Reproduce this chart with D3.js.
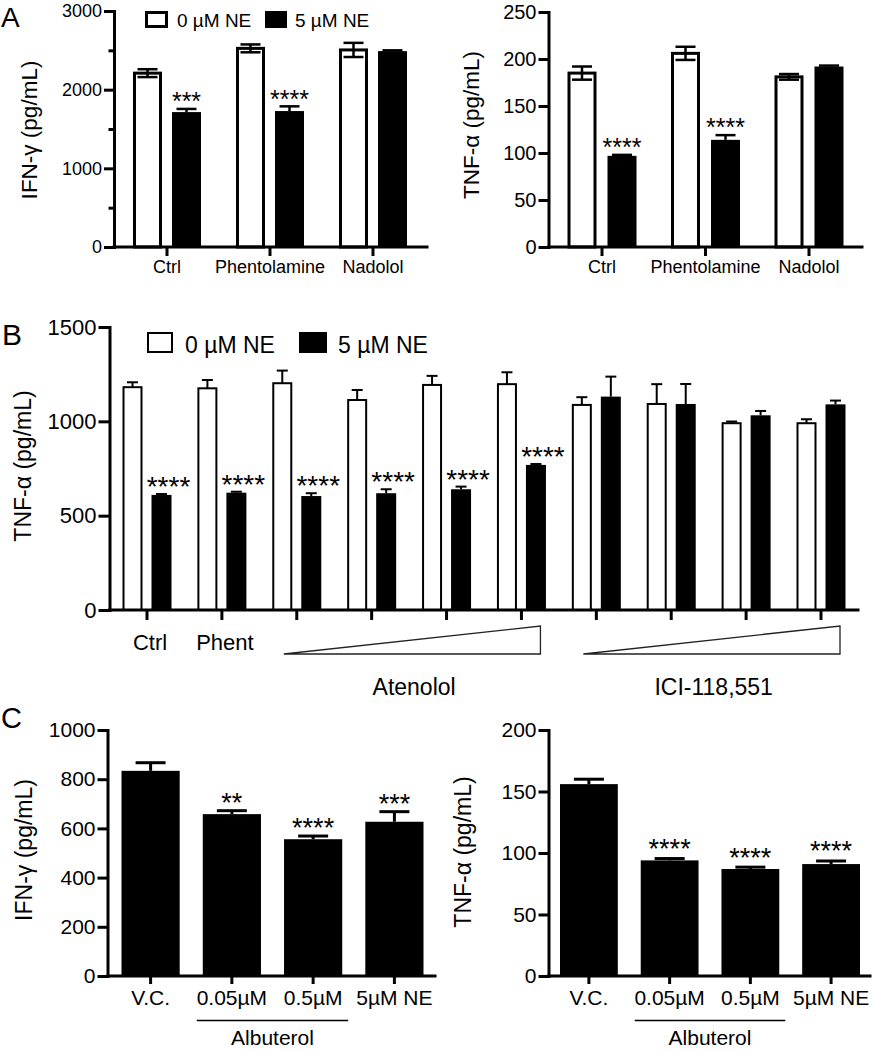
<!DOCTYPE html>
<html>
<head>
<meta charset="utf-8">
<script src="https://cdn.jsdelivr.net/npm/d3@7"></script>
<style>
  html, body { margin: 0; padding: 0; background: #fff; }
  svg { display: block; }
</style>
</head>
<body>
<script>
// ---------------- DATA ----------------
const seriesNames = ["0 µM NE", "5 µM NE"];

// Panel A
const aCategories = ["Ctrl", "Phentolamine", "Nadolol"];
const aIfnTicks = [0, 1000, 2000, 3000];
const aIfnMinorTicks = [500, 1500, 2500];
const aIfnControl = [2210, 2525, 2505];
const aIfnControlErr = [50, 50, 90];
const aIfnNE = [1715, 1728, 2490];
const aIfnNEErr = [40, 60, 10];
const aIfnStars = ["***", "****", ""];

const aTnfTicks = [0, 50, 100, 150, 200, 250];
const aTnfControl = [185, 206, 181];
const aTnfControlErr = [7, 7, 3];
const aTnfNE = [97, 114, 192];
const aTnfNEErr = [1, 5, 1];
const aTnfStars = ["****", "****", ""];

// Panel B
const bGroups = ["Ctrl", "Phent", "Aten1", "Aten2", "Aten3", "Aten4", "ICI1", "ICI2", "ICI3", "ICI4"];
const bLabels = ["Ctrl", "Phent", "", "", "", "", "", "", "", ""];
const bTicks = [0, 500, 1000, 1500];
const bControl = [1181, 1175, 1202, 1113, 1193, 1197, 1087, 1092, 990, 990];
const bControlErr = [26, 44, 67, 53, 48, 63, 41, 105, 9, 21];
const bNE = [610, 622, 604, 619, 640, 769, 1131, 1092, 1032, 1090];
const bNEErr = [5, 5, 15, 21, 14, 5, 106, 106, 23, 20];
const bStars = ["****", "****", "****", "****", "****", "****", "", "", "", ""];
const bDrugs = [
  { name: "Atenolol", first: "Aten1", last: "Aten4" },
  { name: "ICI-118,551", first: "ICI1", last: "ICI4" }
];

// Panel C
const cCategories = ["V.C.", "0.05µM", "0.5µM", "5µM NE"];
const cBracket = { name: "Albuterol", first: "0.05µM", last: "0.5µM" };
const cIfnTicks = [0, 200, 400, 600, 800, 1000];
const cIfn = [834, 658, 556, 627];
const cIfnErr = [33, 14, 13, 41];
const cIfnStars = ["", "**", "****", "***"];
const cTnfTicks = [0, 50, 100, 150, 200];
const cTnf = [156, 94, 87, 91];
const cTnfErr = [4, 1.5, 1.5, 2.5];
const cTnfStars = ["", "****", "****", "****"];

// ---------------- DRAWING ----------------
const FONT = "'Liberation Sans', Arial, Helvetica, sans-serif";
const W = 873, H = 1050;
const svg = d3.select("body").append("svg")
  .attr("width", W).attr("height", H)
  .attr("font-family", FONT);

function yAxis(g, y, o) {
  const ax = g.append("g")
    .attr("transform", `translate(${o.axisX},0)`)
    .call(d3.axisLeft(y).tickValues(o.ticks).tickSize(o.yTickLen).tickSizeOuter(0)
      .tickPadding(o.yTickPad).tickFormat(d3.format("d")));
  ax.select(".domain").attr("stroke-width", o.axisW).attr("stroke-linecap", "square");
  ax.selectAll(".tick line").attr("stroke-width", o.axisW);
  ax.selectAll(".tick text").attr("font-size", o.tickFs).attr("fill", "#000").attr("font-family", FONT);
  if (o.minor) {
    const mi = g.append("g")
      .attr("transform", `translate(${o.axisX},0)`)
      .call(d3.axisLeft(y).tickValues(o.minor).tickSize(o.yTickLen * 0.55).tickSizeOuter(0).tickFormat(""));
    mi.select(".domain").remove();
    mi.selectAll(".tick line").attr("stroke-width", o.axisW);
  }
}

function xAxisLine(g, y, xs, centers, o) {
  g.append("line")
    .attr("x1", o.axisX).attr("x2", o.xEnd)
    .attr("y1", y(0)).attr("y2", y(0))
    .attr("stroke", "#000").attr("stroke-width", o.axisW).attr("stroke-linecap", "square");
  g.selectAll(null).data(centers).enter().append("line")
    .attr("x1", d => d).attr("x2", d => d)
    .attr("y1", y(0)).attr("y2", y(0) + o.xTickLen)
    .attr("stroke", "#000").attr("stroke-width", o.axisW);
}

function yTitle(g, text, x, yc, fs) {
  g.append("text")
    .attr("transform", `translate(${x},${yc}) rotate(-90)`)
    .attr("text-anchor", "middle")
    .attr("font-size", fs)
    .text(text);
}

function panelLetter(g, t, x, y, fs) {
  g.append("text").attr("x", x).attr("y", y).attr("font-size", fs).text(t);
}

function errBar(g, x, yv, ytop, ybot, capW, sw) {
  g.append("line").attr("x1", x).attr("x2", x).attr("y1", ybot).attr("y2", ytop)
    .attr("stroke", "#000").attr("stroke-width", sw);
  g.append("line").attr("x1", x - capW / 2).attr("x2", x + capW / 2).attr("y1", ytop).attr("y2", ytop)
    .attr("stroke", "#000").attr("stroke-width", sw);
  if (ybot > yv) {
    g.append("line").attr("x1", x - capW / 2).attr("x2", x + capW / 2).attr("y1", ybot).attr("y2", ybot)
      .attr("stroke", "#000").attr("stroke-width", sw);
  }
}

function starText(g, text, x, errTopY, fs, gap) {
  if (!text) return;
  g.append("text")
    .attr("x", x)
    .attr("y", errTopY - gap + 0.57 * fs)
    .attr("text-anchor", "middle")
    .attr("font-size", fs)
    .text(text);
}

// grouped open/filled panel
function groupedPanel(o) {
  const g = svg.append("g");
  const y = d3.scaleLinear().domain([0, o.yMax]).range([o.y0, o.yTop]);
  const x = d3.scalePoint().domain(o.groups).range(o.xRange);
  const inner = d3.scaleBand().domain(seriesNames).range([-o.halfSpan, o.halfSpan]).paddingInner(o.gap / (o.barW + o.gap));
  const bw = inner.bandwidth();

  o.groups.forEach((grp, i) => {
    const cx = x(grp);
    // open bar
    const ox = cx + inner(seriesNames[0]);
    const v0 = o.ctrl[i], e0 = o.ctrlErr[i];
    g.append("rect")
      .attr("x", ox + o.barSW / 2).attr("width", bw - o.barSW)
      .attr("y", y(v0)).attr("height", y(0) - y(v0))
      .attr("fill", "#fff").attr("stroke", "#000").attr("stroke-width", o.barSW);
    errBar(g, ox + bw / 2, y(v0), y(v0 + e0), o.bothErr ? y(v0 - e0) : y(v0), o.capW, o.errSW);
    // filled bar
    const fx = cx + inner(seriesNames[1]);
    const v1 = o.ne[i], e1 = o.neErr[i];
    errBar(g, fx + bw / 2, y(v1), y(v1 + e1), y(v1), o.capW, o.errSW);
    g.append("rect")
      .attr("x", fx).attr("width", bw)
      .attr("y", y(v1)).attr("height", y(0) - y(v1))
      .attr("fill", "#000");
    starText(g, o.stars[i], fx + bw / 2 + o.starDx, y(v1 + e1), o.starFs, o.starGap);
    if (o.labels[i]) {
      g.append("text").attr("x", cx + (o.labelDx || 0)).attr("y", y(0) + o.labelDy)
        .attr("text-anchor", "middle").attr("font-size", o.labelFs).text(o.labels[i]);
    }
  });

  yAxis(g, y, o);
  xAxisLine(g, y, x, o.groups.map(d => x(d)), o);
  yTitle(g, o.title, o.titleX, o.titleY, o.titleFs);
  return { g, x, y, inner };
}

// Panel A left
const pAL = groupedPanel({
  groups: aCategories, labels: aCategories,
  ctrl: aIfnControl, ctrlErr: aIfnControlErr, ne: aIfnNE, neErr: aIfnNEErr, stars: aIfnStars,
  yMax: 3000, y0: 247, yTop: 11, xRange: [167, 373],
  halfSpan: 34, barW: 29, gap: 10, barSW: 3, errSW: 2.5, capW: 20, bothErr: true,
  axisX: 114, xEnd: 427, axisW: 3, ticks: aIfnTicks, minor: aIfnMinorTicks,
  yTickLen: 10, yTickPad: 2, tickFs: 18, xTickLen: 9,
  starFs: 25, starGap: 13, starDx: 0,
  labelFs: 18, labelDy: 26,
  title: "IFN-γ (pg/mL)", titleX: 37, titleY: 130, titleFs: 22.5
});
// Legend A
const legA = pAL.g.append("g");
legA.append("rect").attr("x", 146.5).attr("y", 12.5).attr("width", 20).attr("height", 14)
  .attr("fill", "#fff").attr("stroke", "#000").attr("stroke-width", 3);
legA.append("text").attr("x", 177).attr("y", 27).attr("font-size", 19).text(seriesNames[0]);
legA.append("rect").attr("x", 265).attr("y", 11).attr("width", 22).attr("height", 17).attr("fill", "#000");
legA.append("text").attr("x", 295).attr("y", 27).attr("font-size", 19).text(seriesNames[1]);
panelLetter(pAL.g, "A", 1, 27, 28);

// Panel A right
groupedPanel({
  groups: aCategories, labels: aCategories,
  ctrl: aTnfControl, ctrlErr: aTnfControlErr, ne: aTnfNE, neErr: aTnfNEErr, stars: aTnfStars,
  yMax: 250, y0: 247, yTop: 12, xRange: [602, 809],
  halfSpan: 34.5, barW: 29, gap: 11, barSW: 3, errSW: 2.5, capW: 20, bothErr: true,
  axisX: 548.5, xEnd: 862, axisW: 3, ticks: aTnfTicks,
  yTickLen: 10, yTickPad: 2, tickFs: 20,
  xTickLen: 9,
  starFs: 25, starGap: 13.5, starDx: 0,
  labelFs: 18, labelDy: 26,
  title: "TNF-α (pg/mL)", titleX: 478.5, titleY: 125, titleFs: 22.5
});

// Panel B
const pB = groupedPanel({
  groups: bGroups, labels: bLabels,
  ctrl: bControl, ctrlErr: bControlErr, ne: bNE, neErr: bNEErr, stars: bStars,
  yMax: 1500, y0: 610, yTop: 327, xRange: [147, 821],
  halfSpan: 24.5, barW: 20, gap: 9, barSW: 2, errSW: 2, capW: 11, bothErr: false,
  axisX: 109.5, xEnd: 858, axisW: 3, ticks: bTicks,
  yTickLen: 11, yTickPad: 2, tickFs: 22,
  xTickLen: 10,
  starFs: 28, starGap: 14, starDx: 7,
  labelFs: 22, labelDy: 40, labelDx: 3,
  title: "TNF-α (pg/mL)", titleX: 30.5, titleY: 466, titleFs: 23
});
// Legend B
const legB = pB.g.append("g");
legB.append("rect").attr("x", 148).attr("y", 333).attr("width", 24).attr("height", 19)
  .attr("fill", "#fff").attr("stroke", "#000").attr("stroke-width", 2);
legB.append("text").attr("x", 185).attr("y", 353).attr("font-size", 23).text(seriesNames[0]);
legB.append("rect").attr("x", 299).attr("y", 332).attr("width", 28).attr("height", 21).attr("fill", "#000");
legB.append("text").attr("x", 338).attr("y", 353).attr("font-size", 23).text(seriesNames[1]);
panelLetter(pB.g, "B", 2, 345, 30);
// Dose triangles
bDrugs.forEach(dr => {
  const xl = pB.x(dr.first) - 13, xr = pB.x(dr.last) + 19;
  const yb = pB.y(0) + 44, yt = pB.y(0) + 16;
  pB.g.append("path")
    .attr("d", `M${xl},${yb}L${xr},${yt}L${xr},${yb}Z`)
    .attr("fill", "none").attr("stroke", "#222").attr("stroke-width", 1.3);
  pB.g.append("text").attr("x", (pB.x(dr.first) + pB.x(dr.last)) / 2 + 5).attr("y", pB.y(0) + 85)
    .attr("text-anchor", "middle").attr("font-size", 23).text(dr.name);
});

// Panel C (single series)
function singlePanel(o) {
  const g = svg.append("g");
  const y = d3.scaleLinear().domain([0, o.yMax]).range([o.y0, o.yTop]);
  const x = d3.scaleBand().domain(o.cats).range(o.xRange).paddingInner(o.padIn).paddingOuter(0);
  const bw = x.bandwidth();
  o.cats.forEach((c, i) => {
    const v = o.vals[i], e = o.errs[i];
    const bx = x(c);
    errBar(g, bx + bw / 2, y(v), y(v + e), y(v), o.capW, o.errSW);
    g.append("rect").attr("x", bx).attr("width", bw).attr("y", y(v)).attr("height", y(0) - y(v)).attr("fill", "#000");
    starText(g, o.stars[i], bx + bw / 2, y(v + e), o.starFs, o.starGap);
    g.append("text").attr("x", bx + bw / 2).attr("y", y(0) + o.labelDy)
      .attr("text-anchor", "middle").attr("font-size", o.labelFs).text(c);
  });
  yAxis(g, y, o);
  xAxisLine(g, y, x, o.cats.map(c => x(c) + bw / 2), o);
  yTitle(g, o.title, o.titleX, o.titleY, o.titleFs);
  // bracket
  const x1 = x(cBracket.first) - 6, x2 = x(cBracket.last) + bw + 6;
  g.append("line").attr("x1", x1).attr("x2", x2).attr("y1", y(0) + 44.5).attr("y2", y(0) + 44.5)
    .attr("stroke", "#000").attr("stroke-width", 1.5);
  g.append("text").attr("x", (x1 + x2) / 2).attr("y", y(0) + 69)
    .attr("text-anchor", "middle").attr("font-size", 21).text(cBracket.name);
  return { g, x, y };
}

const pCL = singlePanel({
  cats: cCategories, vals: cIfn, errs: cIfnErr, stars: cIfnStars,
  yMax: 1000, y0: 976, yTop: 730, xRange: [121.5, 423.5], padIn: 23 / 81,
  capW: 30, errSW: 3,
  axisX: 107.5, xEnd: 435, axisW: 3, ticks: cIfnTicks,
  yTickLen: 10, yTickPad: 2, tickFs: 21, xTickLen: 8,
  starFs: 27, starGap: 14, labelFs: 21, labelDy: 29,
  title: "IFN-γ (pg/mL)", titleX: 32, titleY: 850, titleFs: 23
});
panelLetter(pCL.g, "C", 1, 728, 29);

singlePanel({
  cats: cCategories, vals: cTnf, errs: cTnfErr, stars: cTnfStars,
  yMax: 200, y0: 976, yTop: 730, xRange: [560, 860], padIn: 23 / 81,
  capW: 30, errSW: 3,
  axisX: 548.5, xEnd: 870, axisW: 3, ticks: cTnfTicks,
  yTickLen: 10, yTickPad: 2, tickFs: 21, xTickLen: 8,
  starFs: 27, starGap: 16, labelFs: 21, labelDy: 29,
  title: "TNF-α (pg/mL)", titleX: 470.5, titleY: 852, titleFs: 23
});
</script>
</body>
</html>
